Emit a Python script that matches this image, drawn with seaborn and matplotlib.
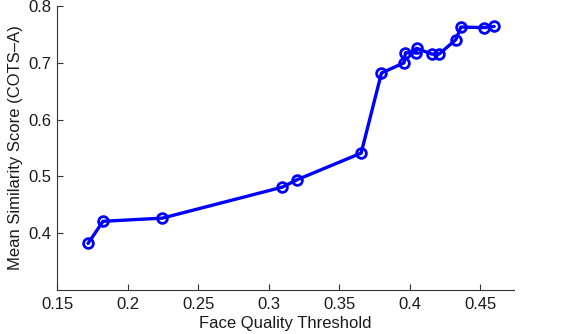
import matplotlib
matplotlib.use('Agg')
import matplotlib.pyplot as plt
import seaborn as sns
import pandas as pd

# Values
threshold = [0.172, 0.1826, 0.2245, 0.3096, 0.320, 0.3656, 0.3800, 0.3960, 0.3970,
             0.4045, 0.4050, 0.4157, 0.4209, 0.4328, 0.4363, 0.4528, 0.4599]
similarity = [0.382, 0.421, 0.4265, 0.481, 0.494, 0.541, 0.682, 0.700, 0.7177,
              0.7175, 0.7255, 0.7154, 0.7154, 0.741, 0.763, 0.762, 0.764]
x_ticks = [0.15, 0.2, 0.25, 0.3, 0.35, 0.4, 0.45]
x_tick_labels = ['0.15', '0.2', '0.25', '0.3', '0.35', '0.4', '0.45']
y_ticks = [0.4, 0.5, 0.6, 0.7, 0.8]
y_tick_labels = ['0.4', '0.5', '0.6', '0.7', '0.8']

sns.set_style('ticks')
plt.rcParams['font.family'] = ['Liberation Sans', 'DejaVu Sans']

df = pd.DataFrame({'threshold': threshold, 'similarity': similarity})

fig = plt.figure(figsize=(5.68, 3.34), dpi=100)
ax = fig.add_axes([0.1004, 0.1317, 0.8046, 0.8503])

sns.lineplot(data=df, x='threshold', y='similarity', ax=ax, sort=True,
             color='#0000ff', linewidth=2.4, marker='o', markersize=7,
             markerfacecolor='none', markeredgecolor='#0000ff',
             markeredgewidth=2.0)

ax.set_xlim(0.15, 0.474)
ax.set_ylim(0.3, 0.8)
ax.set_xticks(x_ticks)
ax.set_xticklabels(x_tick_labels)
ax.set_yticks(y_ticks)
ax.set_yticklabels(y_tick_labels)
ax.tick_params(direction='in', length=4, width=0.8, colors='#333333',
               labelsize=12, labelcolor='#1a1a1a', pad=4)
ax.tick_params(axis='x', pad=5)
ax.set_xlabel('Face Quality Threshold', fontsize=12, color='#1a1a1a', labelpad=3)
ax.set_ylabel('Mean Similarity Score (COTS\u2013A)', fontsize=12, color='#1a1a1a', labelpad=4)

for side in ['top', 'right']:
    ax.spines[side].set_visible(False)
for side in ['left', 'bottom']:
    ax.spines[side].set_color('#333333')
    ax.spines[side].set_linewidth(0.8)

fig.savefig('out.png', dpi=100)
